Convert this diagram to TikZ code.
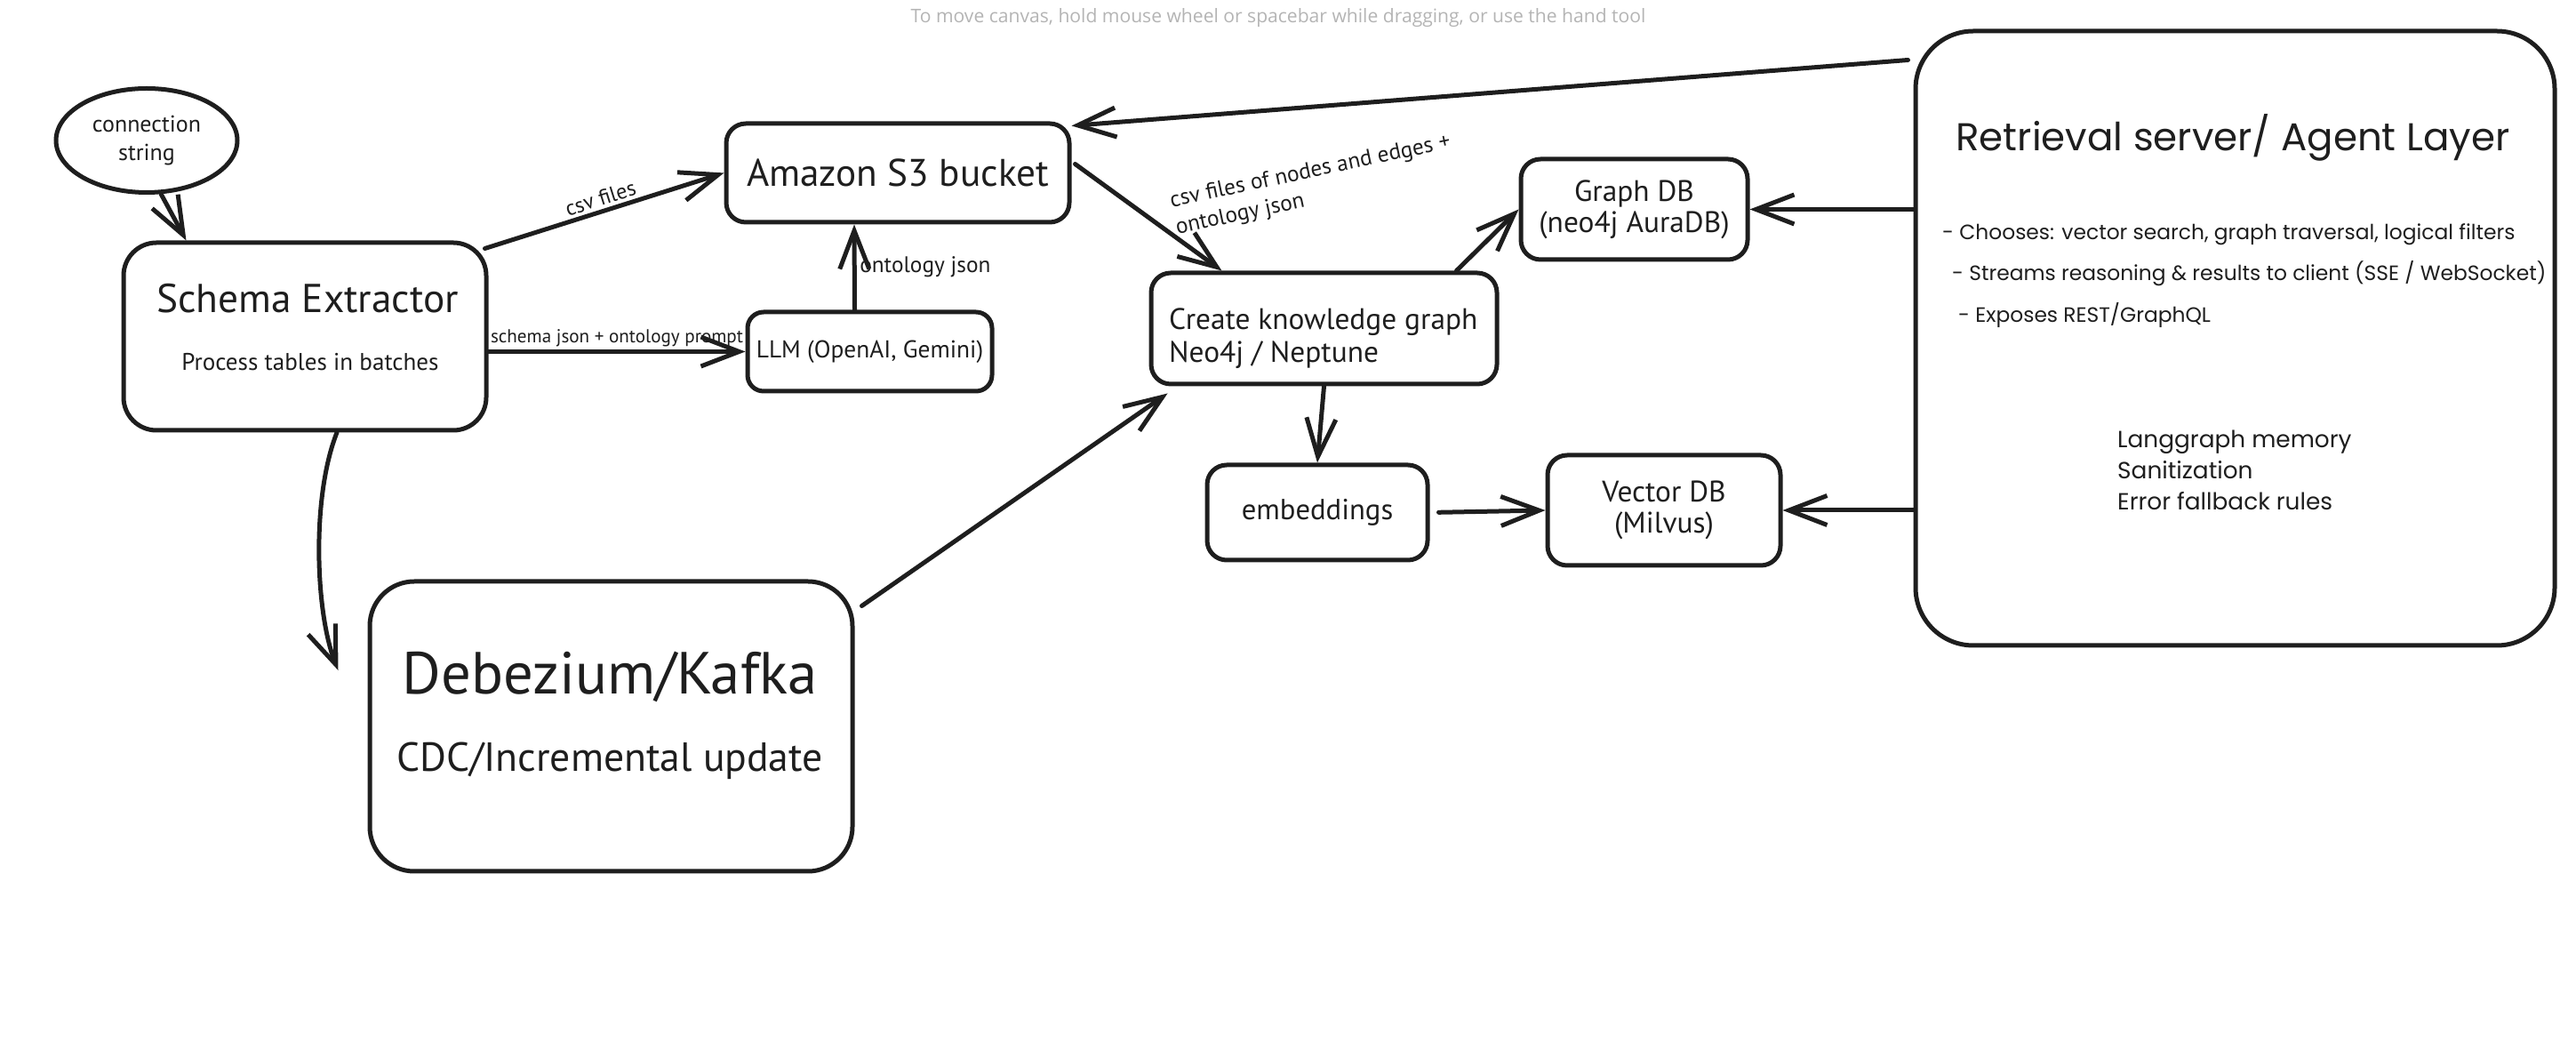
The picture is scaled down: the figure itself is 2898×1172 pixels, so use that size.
\documentclass[tikz,border=0pt]{standalone}
\usepackage{fontspec}
\setmainfont{PT Sans}
\newfontfamily\roundfont{Poppins}
\newfontfamily\hintfont{Open Sans}
\usetikzlibrary{arrows.meta,calc,shapes.geometric}

\definecolor{ink}{HTML}{1E1E1E}
\definecolor{hintgray}{HTML}{B4B4B4}
\newcommand{\fsz}[2]{\fontsize{#1}{#2}\selectfont}

\tikzset{
	box/.style = {draw=ink, line width=0.5mm, rounded corners=2.2mm, align=center, inner sep=0pt, text=ink},
	bubble/.style = {ellipse, draw=ink, line width=0.5mm, align=center, inner sep=0pt, text=ink, minimum width=20.4mm, minimum height=11.7mm},
	lbl/.style = {text=ink, inner sep=1pt},
	conn/.style = {draw=ink, line width=0.5mm, line cap=round, -{Straight Barb[length=4.3mm,width=3.3mm,line width=0.5mm]}}
}

\begin{document}
\begin{tikzpicture}[x=0.1mm, y=-0.1mm]
	\useasboundingbox (0,0) rectangle (2898,1172);
	\node[font={\hintfont\fsz{6}{7}}, text=hintgray] (hint) at (1438,20) {To move canvas, hold mouse wheel or spacebar while dragging, or use the hand tool};

	\node[bubble, font={\fsz{7.4}{9.1}}] (conn) at (165,158) {connection\\string};

	\node[box, rounded corners=3.7mm, minimum width=40.8mm, minimum height=21.1mm] (schema) at (343,378.5) {};
	\node[lbl, font={\fsz{12.9}{15}}] (schematitle) at (346,336) {Schema Extractor};
	\node[lbl, font={\fsz{7.7}{9}}] (schemasub) at (349,407) {Process tables in batches};

	\node[box, minimum width=38.6mm, minimum height=11.1mm, font={\fsz{12.3}{14}}] (amazon) at (1010,194.5) {Amazon S3 bucket};
	\node[box, rounded corners=1.8mm, minimum width=27.5mm, minimum height=8.9mm, font={\fsz{7.8}{9}}] (llm) at (978.5,395.5) {LLM (OpenAI, Gemini)};
	\node[box, minimum width=38.9mm, minimum height=12.5mm] (kg) at (1489.5,369.5) {};
	\node[lbl, anchor=west, align=left, font={\fsz{9.5}{10.5}}] (kgtext) at (1311,381) {Create knowledge graph\\Neo4j / Neptune};
	\node[box, minimum width=25.5mm, minimum height=11.3mm, font={\fsz{9.5}{10}}] (graphdb) at (1838.5,235.5) {Graph DB\\(neo4j AuraDB)};
	\node[box, minimum width=24.8mm, minimum height=10.7mm, font={\fsz{9.3}{10}}] (embed) at (1482,576.5) {embeddings};
	\node[box, minimum width=26.2mm, minimum height=12.4mm, font={\fsz{9.5}{10}}] (vecdb) at (1872,574) {Vector DB\\(Milvus)};

	\node[box, rounded corners=5mm, minimum width=54.3mm, minimum height=32.6mm] (deb) at (687.5,817) {};
	\node[lbl, font={\fsz{19}{22}}] (debtitle) at (686,761) {Debezium/Kafka};
	\node[lbl, font={\fsz{13}{15}}] (debsub) at (686,856) {CDC/Incremental update};

	\node[box, rounded corners=6.5mm, minimum width=71.9mm, minimum height=69.1mm] (agent) at (2514.5,380.5) {};
	\node[lbl, font={\roundfont\fsz{12.4}{14}}] (agenttitle) at (2512,155) {Retrieval server/ Agent Layer};
	\node[lbl, anchor=west, align=left, font={\roundfont\fsz{6.65}{13.3}}] (agentlist) at (2181,310) {- Chooses: vector search, graph traversal, logical filters\\\hspace*{1.1mm}- Streams reasoning \& results to client (SSE / WebSocket)\\\hspace*{1.8mm}- Exposes REST/GraphQL};
	\node[lbl, anchor=west, align=left, font={\roundfont\fsz{7.5}{10}}] (agentnotes) at (2378,529) {Langgraph memory\\Sanitization\\Error fallback rules};

	\node[lbl, rotate=12, anchor=west, align=left, font={\fsz{7.2}{8.8}}] (kglbl) at (1316,243) {csv files of nodes and edges +\\ontology json};

	\draw[conn] (conn.-75) -- ($(schema.north west)+(73,0)$);
	\draw[conn] ($(schema.north east)+(-4,9)$) -- node[lbl, above, sloped, font={\fsz{6.9}{8}}] (csvlbl) {csv files} (amazon.west);
	\draw[conn] (schema.east |- llm.west) -- node[lbl, above, font={\fsz{6}{7}}] (promptlbl) {schema json + ontology prompt} (llm.west);
	\draw[conn] ($(llm.north)+(-17,0)$) -- node[lbl, right, font={\fsz{7.2}{8}}] (ontlbl) {ontology json} ($(amazon.south)+(-49,0)$);
	\draw[conn] ($(amazon.east)+(4,-10)$) -- ($(kg.north)+(-115,0)$);
	\draw[conn] ($(kg.north east)+(-48,0)$) -- (graphdb.west);
	\draw[conn] (kg.south) -- (embed.north);
	\draw[conn, shorten <=1mm] (embed.east) -- (vecdb.west);
	\draw[conn] ($(agent.north west)+(-6,35)$) -- ($(amazon.north east)+(0,5)$);
	\draw[conn] (agent.west |- graphdb.east) -- (graphdb.east);
	\draw[conn] (agent.west |- vecdb.east) -- (vecdb.east);
	\coordinate (debin) at ($(deb.west)+(-33,-63)$);
	\draw[conn] ($(schema.south)+(36,0)$) .. controls (350,560) and (355,690) .. (debin);
	\draw[conn] ($(deb.north east)+(8,30)$) -- ($(kg.south west)+(21,8)$);
\end{tikzpicture}
\end{document}
